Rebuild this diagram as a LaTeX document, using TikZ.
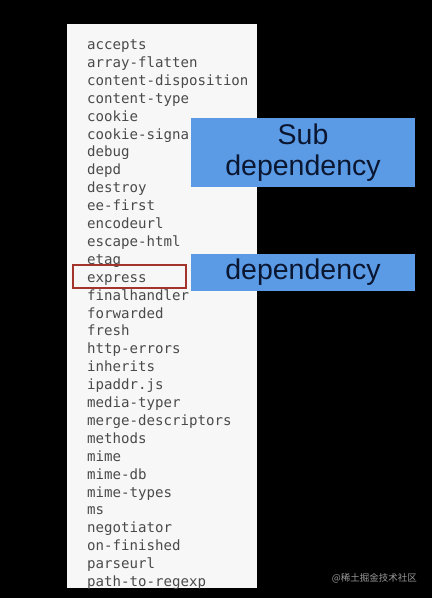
\documentclass[tikz,border=0pt]{standalone}
\usepackage{fontspec}
\setmainfont{Liberation Sans}
\setmonofont{DejaVu Sans Mono}
\newfontfamily\cjkfont{Noto Sans CJK SC}
\usepackage{xcolor}
\usepackage{tikz}
\usetikzlibrary{
    positioning,
    calc
}
\definecolor{panelwhite}{HTML}{F7F7F7}
\definecolor{pkggrey}{HTML}{4A4A4A}
\definecolor{boxblue}{HTML}{5B9BE6}
\definecolor{boxtext}{HTML}{0B1630}
\definecolor{markred}{HTML}{A3342C}
\tikzset{
    pkgname/.style={
        anchor=base west,
        font=\ttfamily\fontsize{14.1}{17}\selectfont,
        text=pkggrey,
        inner sep=0pt
    }
}
\tikzset{
    callout/.style={
        fill=boxblue,
        minimum width=224pt,
        align=center,
        inner sep=0pt,
        text=boxtext,
        font=\fontsize{28.5}{30.5}\selectfont
    }
}
\tikzset{
    marker/.style={
        draw=markred,
        line width=1.5pt,
        minimum width=113pt,
        minimum height=23pt,
        inner sep=0pt
    }
}
\tikzset{
    watermark/.style={
        font=\cjkfont\fontsize{9.5}{11}\selectfont,
        text=white!60!black,
        inner sep=0pt
    }
}

\begin{document}
\begin{tikzpicture}[x=1pt, y=-1pt]

% ------------------------------------------------------------
% Frame and package list panel
% ------------------------------------------------------------

\useasboundingbox[fill=black] (0,0) rectangle (432,598);
\fill[panelwhite] (67,24) rectangle (257,588);

\foreach \name [count=\i] in {accepts, array-flatten, content-disposition,
    content-type, cookie, cookie-signa, debug, depd, destroy, ee-first,
    encodeurl, escape-html, etag, express, finalhandler, forwarded, fresh,
    http-errors, inherits, ipaddr.js, media-typer, merge-descriptors,
    methods, mime, mime-db, mime-types, ms, negotiator, on-finished,
    parseurl, path-to-regexp} {
    \node[pkgname] (pkg-\i) at (87, 49.5+17.9*\i-17.9) {\name};
}

% ------------------------------------------------------------
% Highlighted direct dependency
% ------------------------------------------------------------

\node[marker] (expressmark) at (129.5,276.5) {};

% ------------------------------------------------------------
% Callouts
% ------------------------------------------------------------

\node[callout, minimum height=69pt] (subdep) at (303,152.5)
    {Sub\\dependency};
\node[callout, minimum height=37pt] (dep) at (303,272.5)
    {dependency};

% ------------------------------------------------------------
% Watermark
% ------------------------------------------------------------

\node[watermark, anchor=east] (wm) at (417,578) {@稀土掘金技术社区};

\end{tikzpicture}
\end{document}
